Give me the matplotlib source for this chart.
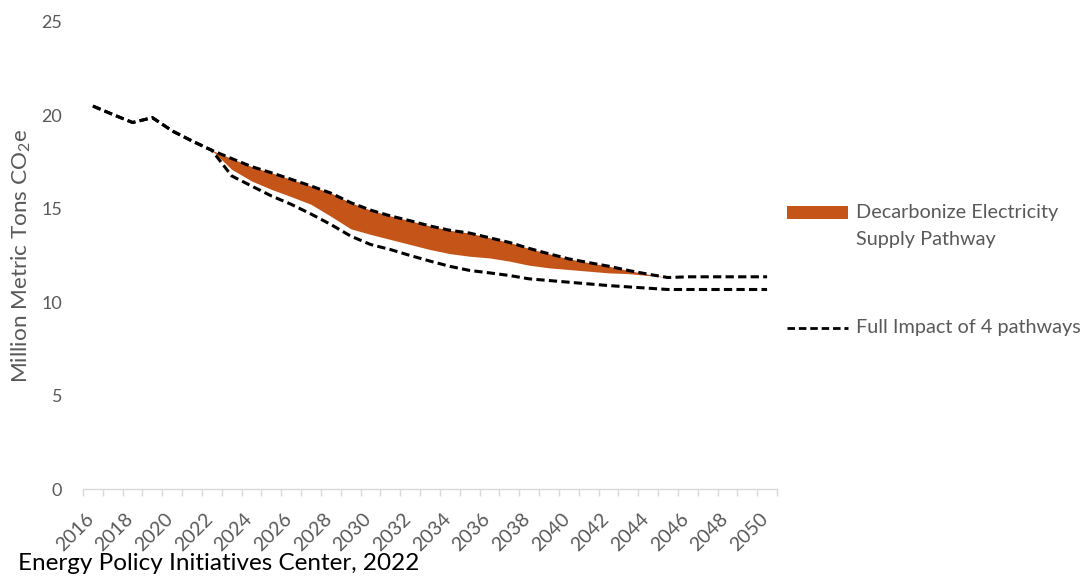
import matplotlib
matplotlib.use("Agg")
import matplotlib.pyplot as plt
from matplotlib.patches import Rectangle
from matplotlib.lines import Line2D
import matplotlib.transforms as mtransforms
import numpy as np

plt.rcParams["font.family"] = ["Lato", "DejaVu Sans"]

# Emissions, million metric tons CO2e
years = list(range(2016, 2051))

reference = [20.50, 20.05, 19.62, 19.88, 19.17, 18.63, 18.13,
             17.69, 17.26, 16.93, 16.58, 16.22, 15.84, 15.33, 14.93,
             14.62, 14.36, 14.08, 13.85, 13.70, 13.45, 13.20, 12.88,
             12.59, 12.32, 12.12, 11.93, 11.70, 11.50, 11.32, 11.36,
             11.36, 11.36, 11.36, 11.36]

full_impact = [20.50, 20.05, 19.62, 19.88, 19.17, 18.63, 18.13,
               16.76, 16.22, 15.69, 15.24, 14.72, 14.16, 13.54, 13.09,
               12.82, 12.50, 12.20, 11.92, 11.70, 11.57, 11.43, 11.25,
               11.16, 11.07, 10.98, 10.89, 10.82, 10.75, 10.68, 10.68,
               10.68, 10.68, 10.68, 10.68]

elec_years = list(range(2022, 2051))
elec_pathway = [18.13, 17.11, 16.49, 16.04, 15.65, 15.24, 14.60, 13.93,
                13.63, 13.36, 13.09, 12.82, 12.60, 12.46, 12.37, 12.20,
                11.98, 11.84, 11.75, 11.66, 11.57, 11.53, 11.43, 11.32,
                11.36, 11.36, 11.36, 11.36, 11.36]

y_ticks = [0, 5, 10, 15, 20, 25]
x_label_years = list(range(2016, 2051, 2))

ORANGE = "#C45418"
GRAY = "#595959"
AXIS_GRAY = "#D9D9D9"
DASH = (0, (2.7, 1.4))

W, H = 1088, 578
fig = plt.figure(figsize=(W / 100, H / 100), dpi=100)
ax = fig.add_axes([83 / W, 1 - 489 / H, (777 - 83) / W, (489 - 22) / H])

ref_lookup = dict(zip(years, reference))
ax.fill_between(elec_years, elec_pathway, [ref_lookup[y] for y in elec_years],
                color=ORANGE, linewidth=0, zorder=2)
ax.plot(years, reference, color="black", lw=2.2, linestyle=DASH, zorder=3)
ax.plot(years, full_impact, color="black", lw=2.2, linestyle=DASH, zorder=3)

ax.set_xlim(2015.5, 2050.5)
ax.set_ylim(0, 25)

ax.set_yticks(y_ticks)
ax.tick_params(axis="y", length=0, pad=15, labelsize=13, labelcolor=GRAY)

ax.set_xticks(x_label_years)
ax.set_xticklabels([str(y) for y in x_label_years], rotation=45,
                   ha="right", va="top")
ax.set_xticks(np.arange(2015.5, 2051, 1.0), minor=True)
ax.tick_params(axis="x", which="major", length=0, pad=15, labelsize=14,
               labelcolor=GRAY)
ax.tick_params(axis="x", which="minor", length=5, width=1, color=AXIS_GRAY)
shift = mtransforms.ScaledTranslation(4 / 100, 0, fig.dpi_scale_trans)
for lbl in ax.get_xticklabels():
    lbl.set_transform(lbl.get_transform() + shift)

for side in ("top", "right", "left"):
    ax.spines[side].set_visible(False)
ax.spines["bottom"].set_color(AXIS_GRAY)
ax.spines["bottom"].set_linewidth(1)

ax.set_ylabel(r"Million Metric Tons CO$_\mathregular{2}$e", fontsize=16.2,
              color=GRAY, labelpad=6)

# Legend drawn in figure pixel coordinates
def fx(px):
    return px / W

def fy(py):
    return 1 - py / H

fig.add_artist(Rectangle((fx(787), fy(219)), fx(848) - fx(787), fy(206) - fy(219),
                         transform=fig.transFigure, color=ORANGE, lw=0))
fig.text(fx(856), fy(212), "Decarbonize Electricity", fontsize=14.3, color=GRAY,
         va="center", ha="left")
fig.text(fx(856), fy(239), "Supply Pathway", fontsize=14.3, color=GRAY,
         va="center", ha="left")
fig.add_artist(Line2D([fx(787), fx(848)], [fy(328), fy(328)],
                      transform=fig.transFigure, color="black", lw=2.0,
                      linestyle=DASH))
fig.text(fx(856), fy(328), "Full Impact of 4 pathways", fontsize=14.3,
         color=GRAY, va="center", ha="left")

fig.text(fx(18), fy(564), "Energy Policy Initiatives Center, 2022",
         fontsize=17.5, color="black", va="center", ha="left")

fig.savefig("out.png", dpi=100)
